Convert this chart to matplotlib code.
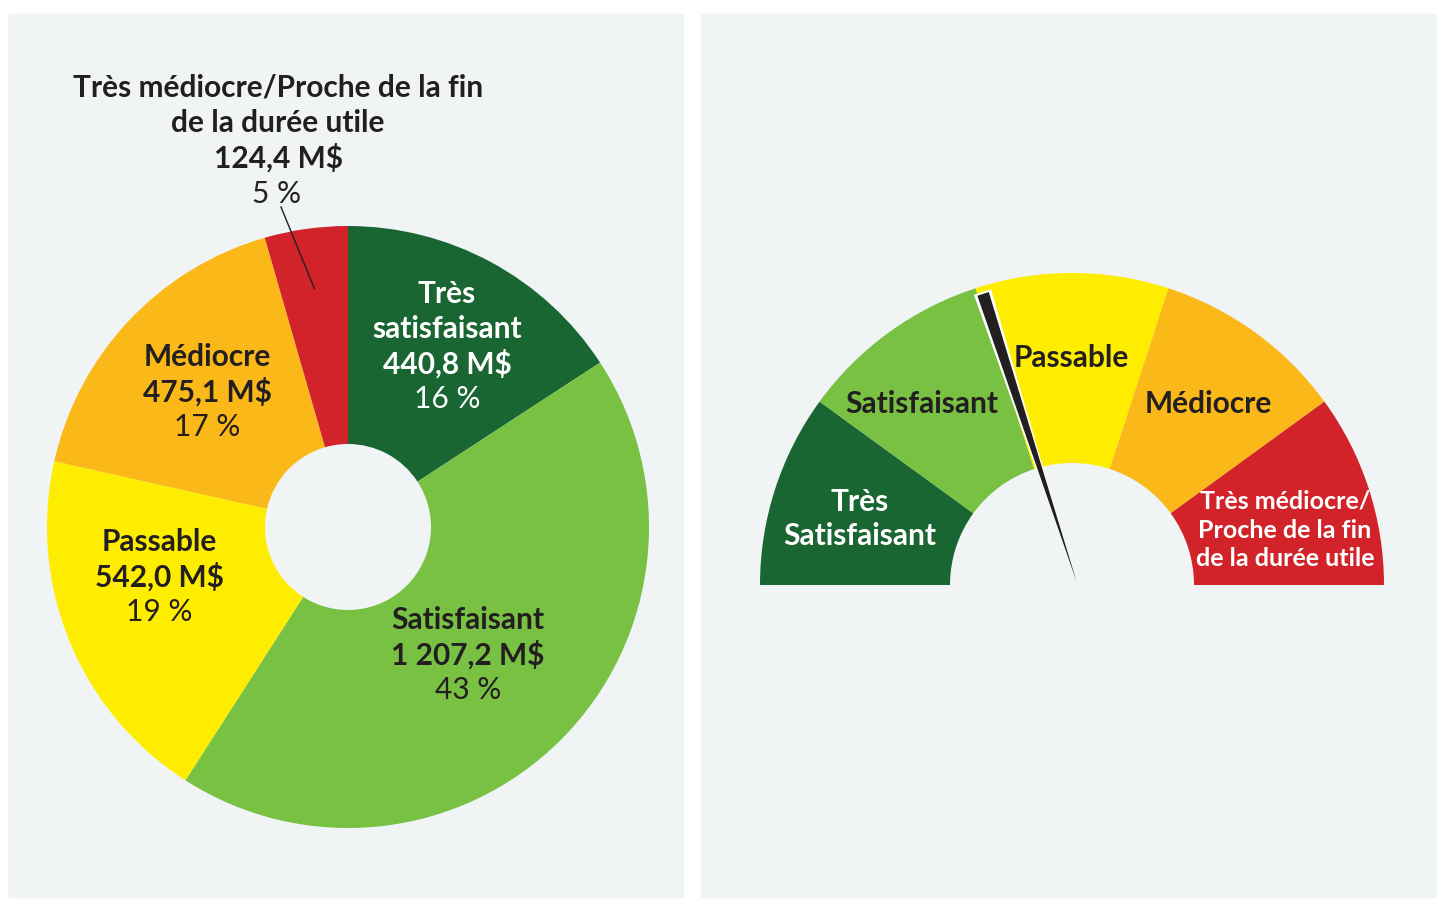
import numpy as np
import matplotlib
matplotlib.use("Agg")
import matplotlib.pyplot as plt
from matplotlib.patches import Rectangle, Wedge, Polygon

plt.rcParams['font.family'] = ['Lato', 'DejaVu Sans']

# donut data
categories = ["Très satisfaisant", "Satisfaisant", "Passable", "Médiocre",
              "Très médiocre/Proche de la fin de la durée utile"]
values = [440.8, 1207.2, 542.0, 475.1, 124.4]
value_labels = ["440,8 M$", "1 207,2 M$", "542,0 M$", "475,1 M$", "124,4 M$"]
pct_labels = ["16 %", "43 %", "19 %", "17 %", "5 %"]
colors = ["#196633", "#78c143", "#ffed00", "#fbb819", "#d2232a"]

# gauge data (left to right)
gauge_labels = [["Très", "Satisfaisant"], ["Satisfaisant"], ["Passable"], ["Médiocre"],
                ["Très médiocre/", "Proche de la fin", "de la durée utile"]]
needle_value = 2.0   # position on a 0-5 scale

W, H = 1437, 899
fig = plt.figure(figsize=(W / 100, H / 100), dpi=100)
ax = fig.add_axes([0, 0, 1, 1])
dark = "#231f20"

def Y(y):
    # pixel row -> axis y
    return H - y

# panel backgrounds
bg = "#f0f4f5"
ax.add_patch(Rectangle((8, Y(897)), 675, 883, color=bg, zorder=0))
ax.add_patch(Rectangle((701, Y(897)), 736, 883, color=bg, zorder=0))

# ---- donut ----
cx, cy, R, r_in = 348, Y(527), 301, 83
wedges, _ = ax.pie(values, colors=colors, startangle=90, counterclock=False,
                   center=(cx, cy), radius=R,
                   wedgeprops=dict(width=R - r_in, linewidth=0))

big = 21.5
txt_pos = [(447, 294, "white"), (468, 620, dark), (159, 542, dark), (207, 357, dark)]
names = [["Très", "satisfaisant"], ["Satisfaisant"], ["Passable"], ["Médiocre"]]
for i, (x, y, c) in enumerate(txt_pos):
    lines = names[i] + [value_labels[i]]
    for j, s in enumerate(lines):
        ax.text(x, Y(y + 35 * j), s, ha="center", va="center", fontsize=big,
                fontweight="bold", color=c)
    ax.text(x, Y(y + 35 * len(lines)), pct_labels[i], ha="center", va="center",
            fontsize=big, color=c)

# red slice label on top with leader line
top_lines = ["Très médiocre/Proche de la fin", "de la durée utile", value_labels[4]]
for j, s in enumerate(top_lines):
    ax.text(278, Y(88 + 35 * j), s, ha="center", va="center", fontsize=big,
            fontweight="bold", color=dark)
ax.text(277, Y(194), pct_labels[4], ha="center", va="center", fontsize=big, color=dark)
w = wedges[4]
mid = np.deg2rad((w.theta1 + w.theta2) / 2)
ax.plot([281, cx + 0.8 * R * np.cos(mid)], [Y(207), cy + 0.8 * R * np.sin(mid)],
        color=dark, lw=1)

# ---- gauge ----
gx, gy, GR, gr = 1072, Y(585), 312, 122
n = len(gauge_labels)
step = 180 / n
for i in range(n):
    t2 = 180 - i * step
    t1 = t2 - step
    ax.add_patch(Wedge((gx, gy), GR, t1, t2, width=GR - gr, color=colors[i], lw=0))

g_text = [(860, 502, "white", 21.5, 34), (922, 404, dark, 21.5, 34),
          (1071, 358, dark, 21.5, 34), (1208, 404, dark, 21.5, 34),
          (1285, 501, "white", 18, 29)]
for (x, y, c, fs, sp), lines in zip(g_text, gauge_labels):
    for j, s in enumerate(lines):
        ax.text(x, Y(y + sp * j), s, ha="center", va="center", fontsize=fs,
                fontweight="bold", color=c)

# needle
ang = np.deg2rad(180 - needle_value * step)
tip = np.array([gx + 5, gy + 2])
u = np.array([np.cos(ang), np.sin(ang)])
p = np.array([-u[1], u[0]])
end = tip + 304 * u
ax.add_patch(Polygon([tip - 2 * u, end + 9 * p + 2 * u, end - 9 * p + 2 * u], closed=True,
                     facecolor="white", lw=0, zorder=5))
ax.add_patch(Polygon([tip, end + 6 * p, end - 6 * p], closed=True, facecolor=dark,
                     lw=0, zorder=6))

ax.set_xlim(0, W)
ax.set_ylim(0, H)
ax.set_aspect("auto")
ax.set_axis_off()
fig.savefig("out.png", dpi=100, facecolor="white")
